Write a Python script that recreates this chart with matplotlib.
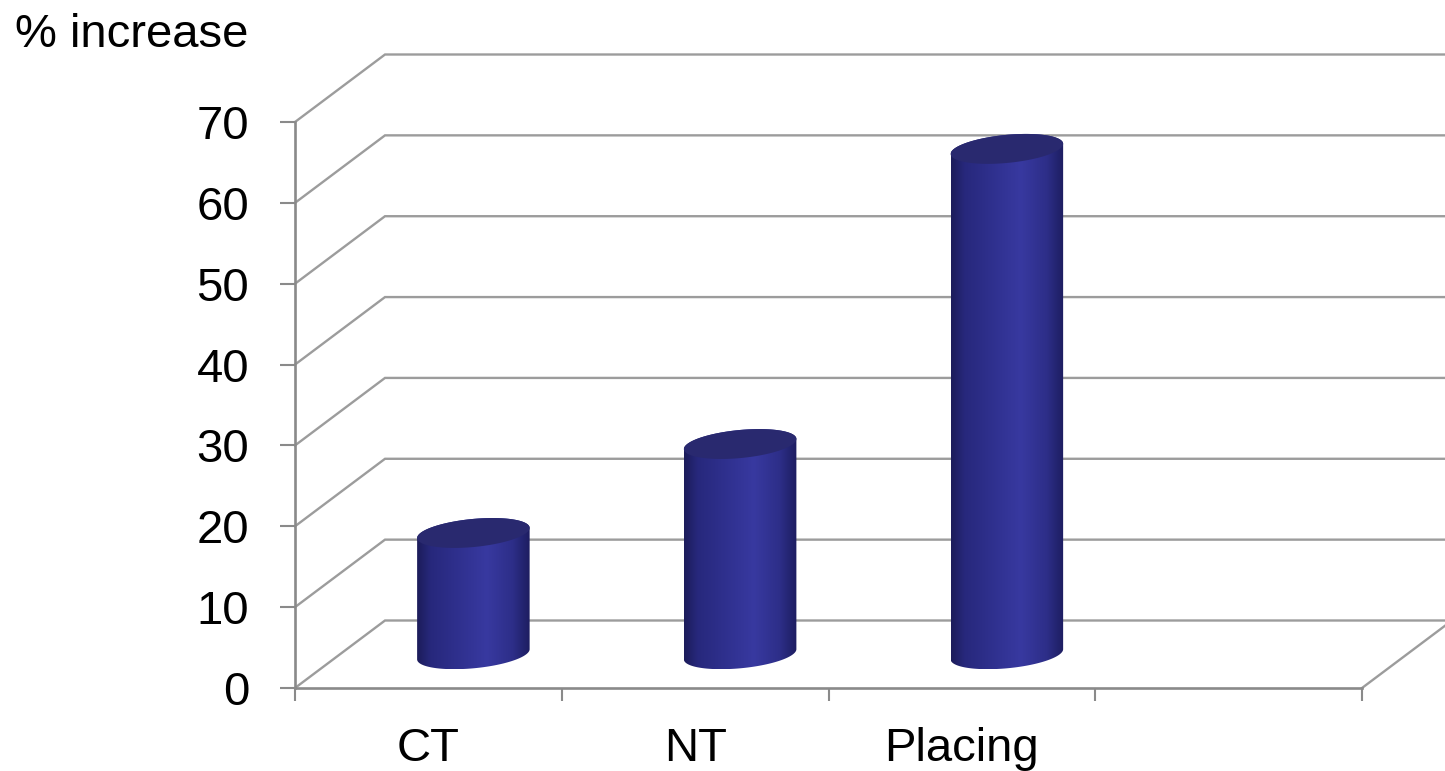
import numpy as np
import matplotlib
matplotlib.use("Agg")
import matplotlib.pyplot as plt
from matplotlib.patches import Polygon
from matplotlib.colors import LinearSegmentedColormap

# ---- data ----
categories = ["CT", "NT", "Placing", ""]
values = [15, 26, 62.5, None]
y_ticks = [0, 10, 20, 30, 40, 50, 60, 70]
y_title = "% increase"

plt.rcParams['font.family'] = ['Liberation Sans', 'DejaVu Sans']

W, H = 1445, 771
fig = plt.figure(figsize=(W / 100, H / 100), dpi=100)
# front plot plane: x 295..1362 px, y(0)=688 px, y(70)=122 px (from top)
ax = fig.add_axes([295 / W, (H - 688) / H, (1362 - 295) / W, (688 - 122) / H])
nslots = len(categories)
ax.set_xlim(0, nslots)
ax.set_ylim(0, 70)

grid_col = "#9c9c9c"
axis_col = "#8a8a8a"

for s in ["top", "right"]:
    ax.spines[s].set_visible(False)
for s in ["left", "bottom"]:
    ax.spines[s].set_color(axis_col)
    ax.spines[s].set_linewidth(1.9)

ax.set_yticks(y_ticks)
ax.set_yticklabels([str(t) for t in y_ticks])
ax.tick_params(axis="y", direction="out", length=11, width=1.5, color=axis_col,
               labelsize=34, pad=22, labelcolor="black")
ax.set_xticks(np.arange(nslots + 1))
ax.set_xticklabels([])
ax.tick_params(axis="x", which="major", direction="out", length=9, width=1.5, color=axis_col)
ax.set_xticks(np.arange(nslots) + 0.5, minor=True)
ax.set_xticklabels(categories, minor=True)
ax.tick_params(axis="x", which="minor", length=0, labelsize=34, pad=28, labelcolor="black")

fig.canvas.draw()
p0 = ax.transData.transform((0, 0))
p1 = ax.transData.transform((1, 1))
px_x = p1[0] - p0[0]   # pixels per slot
px_y = p1[1] - p0[1]   # pixels per value unit

# depth offset (pixels) -> data units
depth_dx = 90 / px_x
depth_dy = 67.5 / px_y

# back wall gridlines and diagonal side lines
xfar = (W - 295) / px_x + 0.5
for v in y_ticks:
    ax.plot([0, depth_dx, xfar], [v, v + depth_dy, v + depth_dy],
            color=grid_col, lw=1.7, clip_on=False, zorder=1, solid_joinstyle="miter")
# right floor edge
ax.plot([nslots, nslots + depth_dx], [0, depth_dy], color=grid_col, lw=1.7,
        clip_on=False, zorder=1)

# cylinder colormap (horizontal shading)
cmap = LinearSegmentedColormap.from_list(
    "cyl", [(0.0, "#1c1c5a"), (0.12, "#27287c"), (0.45, "#323394"),
            (0.62, "#3839a0"), (0.85, "#2d2e88"), (1.0, "#1d1d60")])
top_col = "#29296f"

a_px, b_px, rot = 56.5, 14.0, np.deg2rad(5.5)
t = np.linspace(0, 2 * np.pi, 721)[:-1]
ex = a_px * np.cos(t) * np.cos(rot) - b_px * np.sin(t) * np.sin(rot)
ey = a_px * np.cos(t) * np.sin(rot) + b_px * np.sin(t) * np.cos(rot)
i_r = int(np.argmax(ex))
i_l = int(np.argmin(ex))
ex_d = ex / px_x
ey_d = ey / px_y


def arc(i0, i1):
    if i1 >= i0:
        idx = np.arange(i0, i1 + 1)
    else:
        idx = np.concatenate([np.arange(i0, len(t)), np.arange(0, i1 + 1)])
    return idx


back_idx = arc(i_r, i_l)   # through the top (y-up)
front_idx = arc(i_l, i_r)  # through the bottom

for i, (cat, val) in enumerate(zip(categories, values)):
    if val is None:
        continue
    cx = i + 0.5 + depth_dx / 2
    yb = depth_dy / 2
    yt = yb + val
    body_x = np.concatenate([cx + ex_d[back_idx], cx + ex_d[front_idx]])
    body_y = np.concatenate([yt + ey_d[back_idx], yb + ey_d[front_idx]])
    body = Polygon(np.column_stack([body_x, body_y]), closed=True,
                   facecolor="none", edgecolor="none")
    ax.add_patch(body)
    x0, x1 = cx + ex_d.min(), cx + ex_d.max()
    y0, y1 = yb + ey_d.min(), yt + ey_d.max()
    grad = np.linspace(0, 1, 256).reshape(1, -1)
    im = ax.imshow(grad, cmap=cmap, extent=[x0, x1, y0, y1], aspect="auto",
                   interpolation="bicubic", zorder=3)
    im.set_clip_path(body)
    top = Polygon(np.column_stack([cx + ex_d, yt + ey_d]), closed=True,
                  facecolor=top_col, edgecolor="none", zorder=4)
    ax.add_patch(top)

ax.set_xlim(0, nslots)
ax.set_ylim(0, 70)

fig.text(15 / W, 1 - 47 / H, y_title, fontsize=34, ha="left", va="baseline")

fig.savefig("out.png", dpi=100, facecolor="white")
